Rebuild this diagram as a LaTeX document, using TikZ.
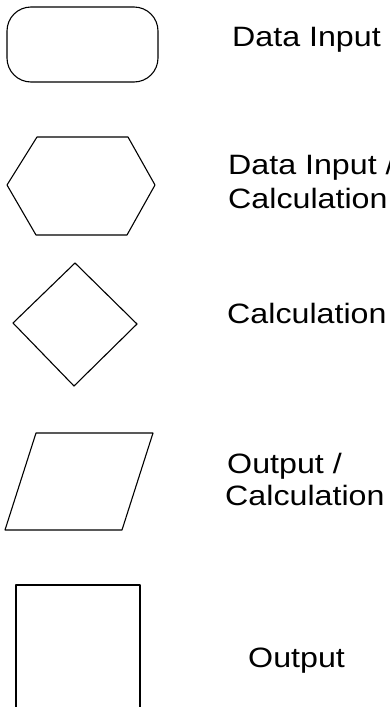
\documentclass[tikz,border=0pt]{standalone}
\usepackage{graphicx}
\usepackage{fontspec}
\setmainfont{Liberation Sans}
\begin{document}
\begin{tikzpicture}[x=1pt,y=-1pt,
  symbol/.style={draw=black,line width=1.1pt,line join=round},
  label/.style={anchor=base west,inner sep=0pt,font=\fontsize{28}{34}\selectfont}]
\useasboundingbox (0,0) rectangle (390,707);
% terminal (data input)
\draw[symbol,rounded corners=24pt] (7,7) rectangle (158,82);
\node[label] (lin) at (232,46) {\scalebox{1.15}[1]{Data Input}};
% hexagon (data input / calculation)
\draw[symbol] (37,137) -- (128,137) -- (155,185) -- (127,235) -- (36,235) -- (7,185) -- cycle;
\node[label] (lhexa) at (228,174) {\scalebox{1.15}[1]{Data Input /}};
\node[label] (lhexb) at (228,208) {\scalebox{1.15}[1]{Calculation}};
% decision diamond (calculation)
\draw[symbol] (75,263) -- (137,324) -- (74,386) -- (13,323) -- cycle;
\node[label] (ldia) at (227,323) {\scalebox{1.15}[1]{Calculation}};
% parallelogram (output / calculation)
\draw[symbol] (36,433) -- (153,433) -- (122,530) -- (5,530) -- cycle;
\node[label] (lpara) at (227,473) {\scalebox{1.15}[1]{Output /}};
\node[label] (lparb) at (225,505) {\scalebox{1.15}[1]{Calculation}};
% process box (output), running off the lower edge
\draw[symbol] (16,712) -- (16,585) -- (140,585) -- (140,712);
\node[label] (lout) at (248,667) {\scalebox{1.15}[1]{Output}};
\end{tikzpicture}
\end{document}
